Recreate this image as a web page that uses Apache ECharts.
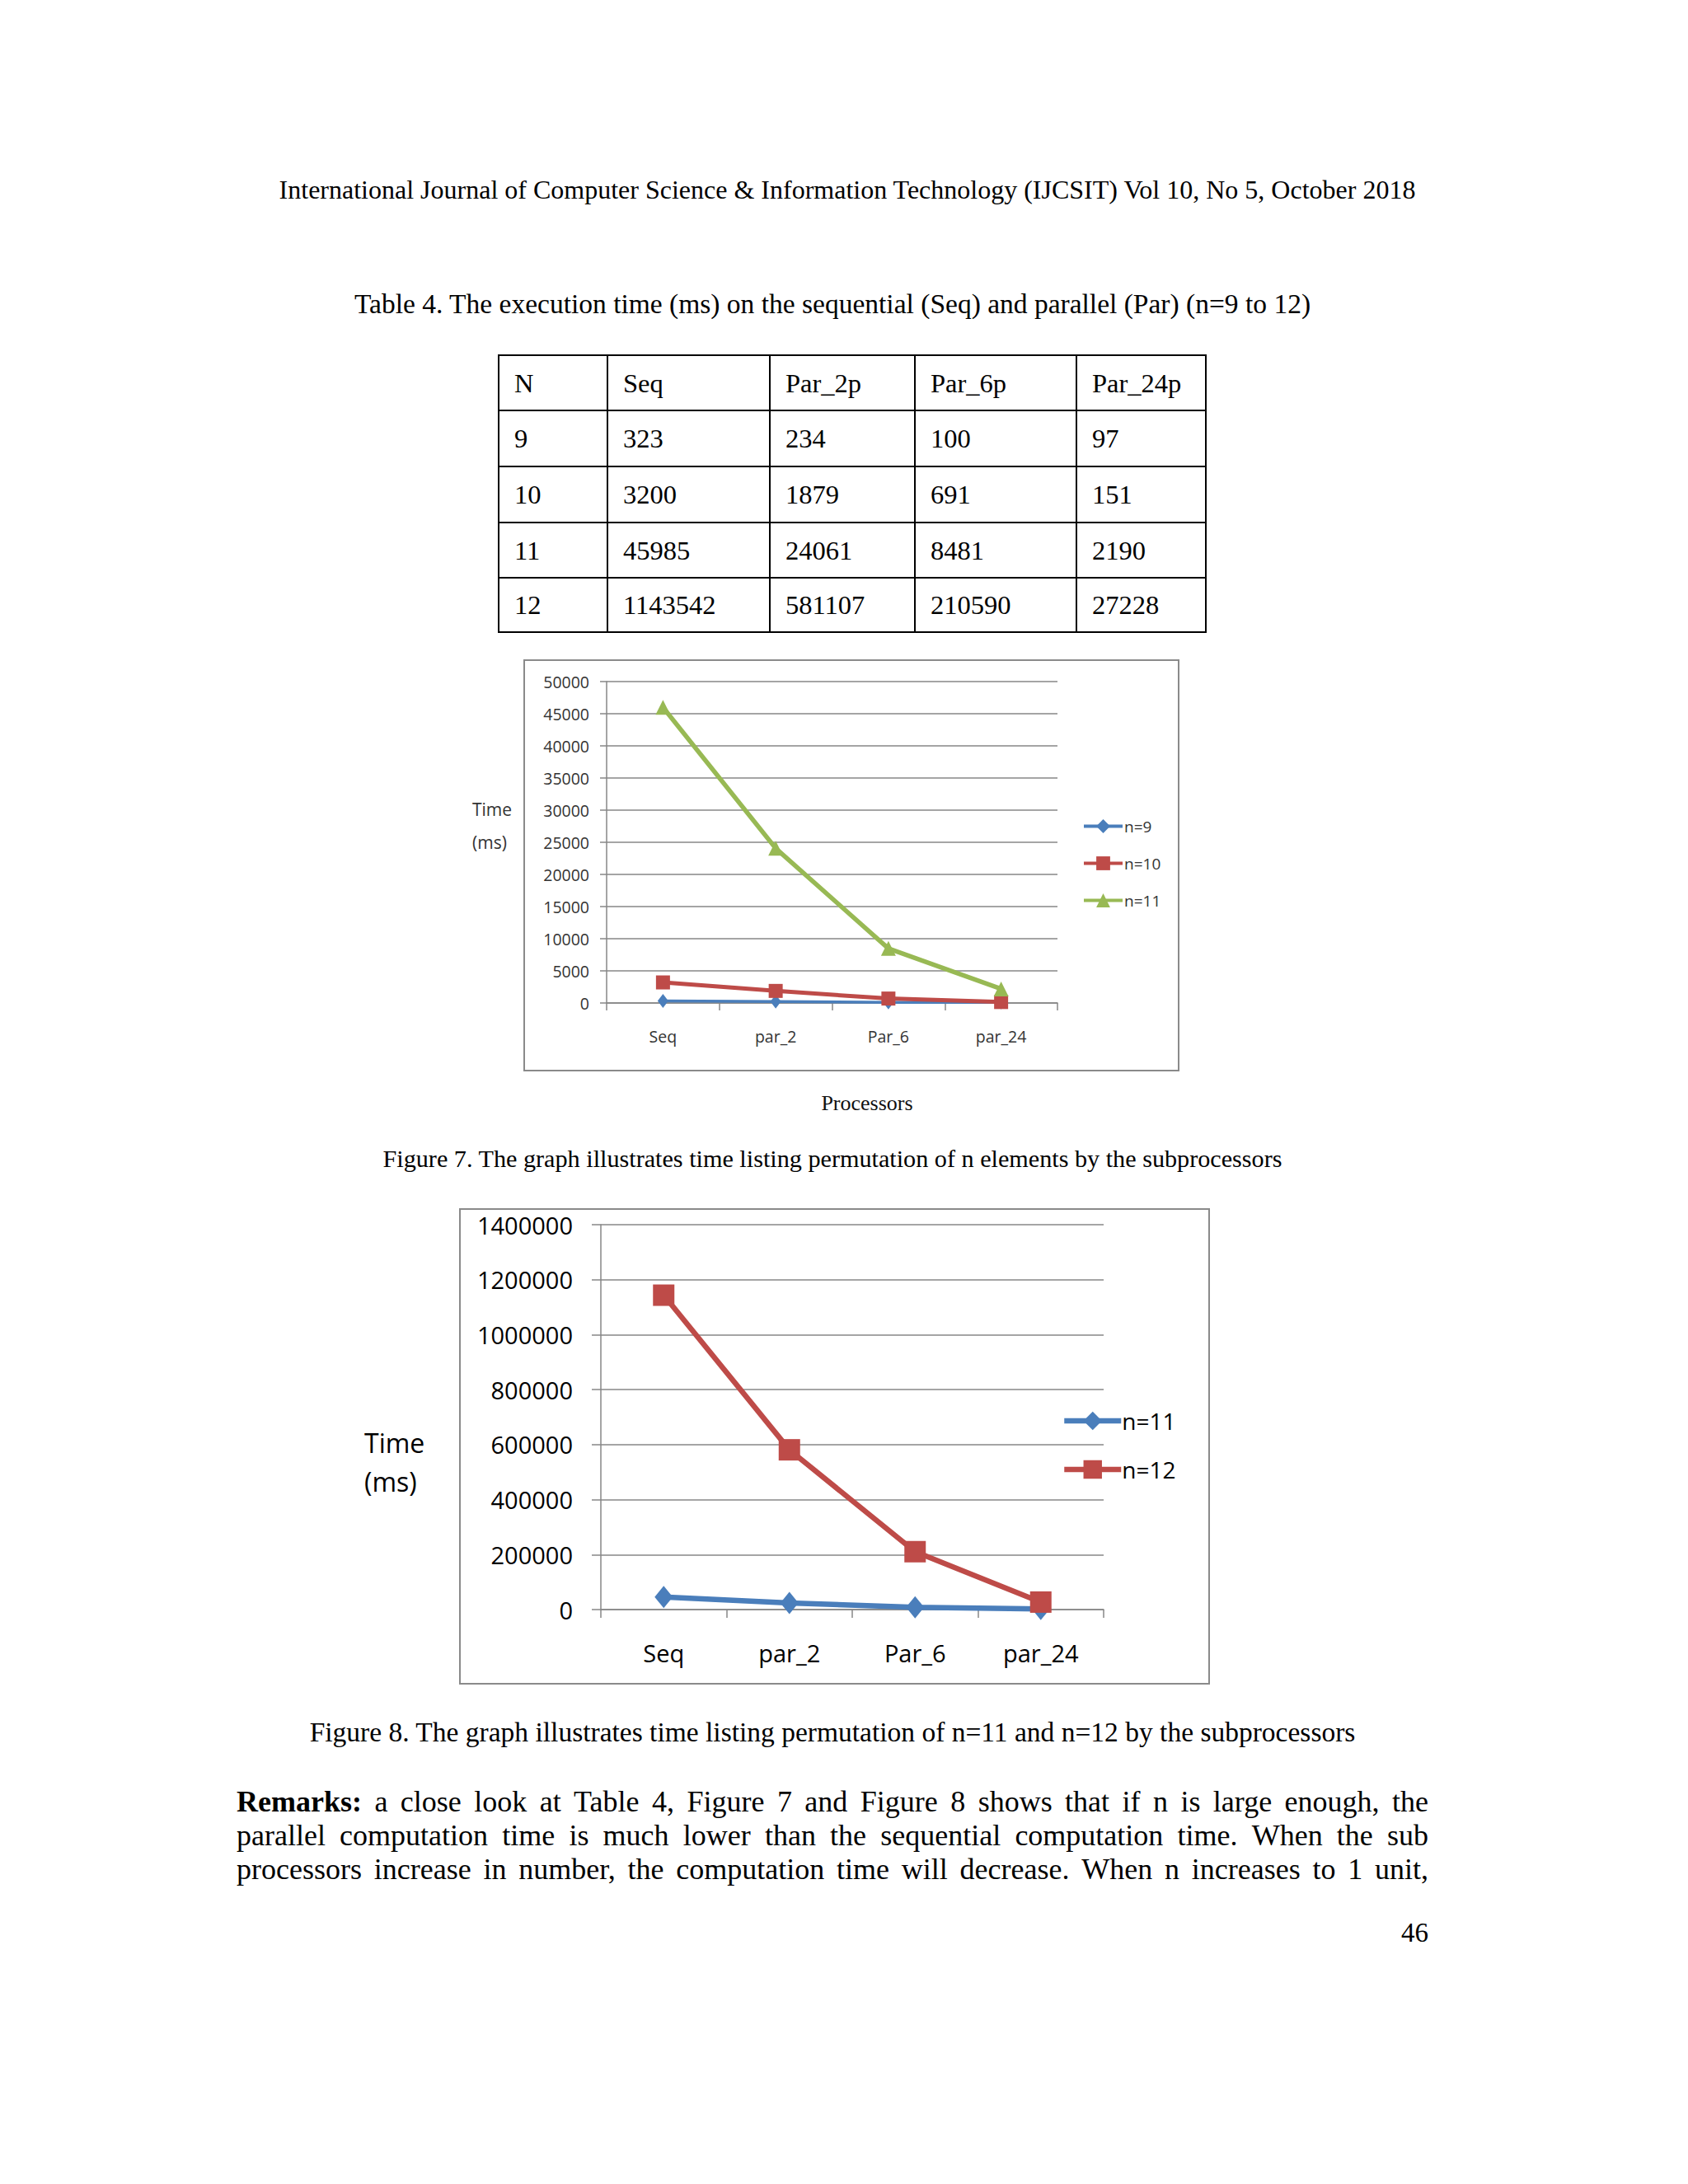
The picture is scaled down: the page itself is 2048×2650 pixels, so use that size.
<!DOCTYPE html>
<html><head><meta charset="utf-8">
<script src="https://cdn.jsdelivr.net/npm/echarts@6/dist/echarts.min.js"></script>
<style>html,body{margin:0;padding:0;background:#fff}#page{width:2048px;height:2650px}</style>
</head><body><div id="page"></div>
<script>
// ---------- data ----------
const categories = ['Seq', 'par_2', 'Par_6', 'par_24'];
const tableHeader = ['N', 'Seq', 'Par_2p', 'Par_6p', 'Par_24p'];
const nValues = [9, 10, 11, 12];
const seqTime = [323, 3200, 45985, 1143542];
const par2Time = [234, 1879, 24061, 581107];
const par6Time = [100, 691, 8481, 210590];
const par24Time = [97, 151, 2190, 27228];
const fig7Axis = { min: 0, max: 50000, interval: 5000 };
const fig8Axis = { min: 0, max: 1400000, interval: 200000 };
const fig7Names = ['n=9', 'n=10', 'n=11'];
const fig8Names = ['n=11', 'n=12'];

const headerText = 'International Journal of Computer Science & Information Technology (IJCSIT) Vol 10, No 5, October 2018';
const tableCaption = 'Table 4. The execution time (ms) on the sequential (Seq) and parallel (Par) (n=9 to 12)';
const fig7Caption = 'Figure 7. The graph illustrates time listing permutation of n elements by the subprocessors';
const fig8Caption = 'Figure 8. The graph illustrates time listing permutation of n=11 and n=12 by the subprocessors';
const remarkLines = [
  'Remarks: a close look at Table 4, Figure 7 and Figure 8 shows that if n is large enough, the',
  'parallel computation time is much lower than the sequential computation time. When the sub',
  'processors increase in number, the computation time will decrease. When n increases to 1 unit,'
];
const pageNumber = '46';

function rowOf(i) { return [seqTime[i], par2Time[i], par6Time[i], par24Time[i]]; }

// ---------- layout helpers ----------
const SERIF = '"Liberation Serif", "Times New Roman", serif';
const SANS = '"Open Sans", "Noto Sans", sans-serif';
const BLUE = '#4a7ebb', RED = '#be4b48', GREEN = '#98b954';
const GRID_C = '#878787';

const graphics = [];
function txt(x, y, text, size, opts) {
  opts = opts || {};
  graphics.push({
    type: 'text', x: x, y: y, silent: true,
    style: {
      text: text, fontSize: size, fontFamily: opts.family || SERIF,
      fontWeight: opts.weight || 'normal', fill: opts.color || '#000',
      align: opts.align || 'left', verticalAlign: 'middle',
      textAlign: opts.align || 'left', textVerticalAlign: 'middle'
    }
  });
}
function line(x1, y1, x2, y2, color, w) {
  graphics.push({ type: 'line', silent: true, shape: { x1: x1, y1: y1, x2: x2, y2: y2 },
    style: { stroke: color, lineWidth: w } });
}
function box(x, y, w, h) {
  graphics.push({ type: 'rect', silent: true, z: -1, shape: { x: x, y: y, width: w, height: h },
    style: { fill: 'none', stroke: '#8a8a8a', lineWidth: 2 } });
}

// header & caption
txt(1028, 230, headerText, 32, { align: 'center' });
txt(1010, 368, tableCaption, 33.5, { align: 'center' });

// table
const colX = [605, 737, 934, 1110, 1306, 1463];
const rowY = [431, 498, 566, 634, 701, 767];
colX.forEach(function (x) { line(x, rowY[0] - 1, x, rowY[rowY.length - 1] + 1, '#000', 2); });
rowY.forEach(function (y) { line(colX[0] - 1, y, colX[colX.length - 1] + 1, y, '#000', 2); });
const tableRows = [tableHeader].concat(nValues.map(function (n, i) { return [n].concat(rowOf(i)); }));
tableRows.forEach(function (r, ri) {
  const cy = (rowY[ri] + rowY[ri + 1]) / 2;
  r.forEach(function (v, ci) { txt(colX[ci] + 19, cy, String(v), 32.5); });
});

// chart boxes and labels
box(636, 801, 794, 498);
txt(573, 982, 'Time', 21, { family: SANS, color: '#333' });
txt(573, 1022, '(ms)', 21, { family: SANS, color: '#333' });
txt(1052, 1338, 'Processors', 26, { align: 'center', color: '#111' });
txt(1010, 1406, fig7Caption, 30.2, { align: 'center' });

box(558, 1467, 909, 576);
txt(442, 1750, 'Time', 32, { family: SANS });
txt(442, 1797, '(ms)', 32, { family: SANS });
txt(1010, 2101, fig8Caption, 33.5, { align: 'center' });

// justified paragraph
const ctx = document.createElement('canvas').getContext('2d');
function mw(t, size, weight) { ctx.font = (weight || 'normal') + ' ' + size + 'px "Liberation Serif"'; return ctx.measureText(t).width; }
const PL = 287, PR = 1733, PS = 36, lineYs = [2186, 2227, 2268];
remarkLines.forEach(function (l, li) {
  const words = l.split(' ').map(function (w, wi) {
    const bold = (li === 0 && wi === 0);
    return { t: w, bold: bold, w: mw(w, PS, bold ? 'bold' : 'normal') };
  });
  const total = words.reduce(function (s, w) { return s + w.w; }, 0);
  const gap = (PR - PL - total) / (words.length - 1);
  let x = PL;
  words.forEach(function (w) {
    txt(x, lineYs[li], w.t, PS, { weight: w.bold ? 'bold' : 'normal' });
    x += w.w + gap;
  });
});
txt(1733, 2345, pageNumber, 33, { align: 'right' });

// ---------- chart ----------
function plain(v) { return String(v); }
function xAx(grid, size, margin, tickLen) {
  return {
    type: 'category', gridIndex: grid, data: categories, boundaryGap: true,
    axisLine: { show: true, lineStyle: { color: GRID_C, width: 1.5 } },
    axisTick: { show: true, length: tickLen, lineStyle: { color: GRID_C, width: 1.5 } },
    axisLabel: { margin: margin, fontSize: size, fontFamily: SANS, color: grid ? '#000' : '#333' },
    splitLine: { show: false }
  };
}
function yAx(grid, ax, size, margin, tickLen) {
  return {
    type: 'value', gridIndex: grid, min: ax.min, max: ax.max, interval: ax.interval,
    axisLine: { show: true, lineStyle: { color: GRID_C, width: 1.5 } },
    axisTick: { show: true, length: tickLen, lineStyle: { color: GRID_C, width: 1.5 } },
    axisLabel: { margin: margin, fontSize: size, fontFamily: SANS, color: grid ? '#000' : '#333', formatter: plain },
    splitLine: { show: true, lineStyle: { color: GRID_C, width: 1.5 } }
  };
}
function ser(name, grid, data, color, symbol, size, width) {
  return {
    type: 'line', name: name, xAxisIndex: grid, yAxisIndex: grid, data: data,
    symbol: symbol, symbolSize: size, showAllSymbol: true,
    lineStyle: { color: color, width: width }, itemStyle: { color: color },
    emphasis: { disabled: true }, animation: false, z: 3
  };
}

const series = [
  ser(fig7Names[0], 0, rowOf(0), BLUE, 'diamond', [13, 17], 3.5),
  ser(fig7Names[1], 0, rowOf(1), RED, 'rect', 17, 5),
  ser(fig7Names[2], 0, rowOf(2), GREEN, 'triangle', 18, 5.5),
  ser(fig8Names[0] + ' ', 1, rowOf(2), BLUE, 'diamond', [22, 27], 6.5),
  ser(fig8Names[1] + ' ', 1, rowOf(3), RED, 'rect', 26, 6.5)
];

const chart = echarts.init(document.getElementById('page'), null, { renderer: 'svg', width: 2048, height: 2650 });
chart.setOption({
  backgroundColor: '#fff',
  animation: false,
  grid: [
    { left: 736, top: 827, width: 547, height: 390, containLabel: false },
    { left: 729, top: 1486, width: 610, height: 467, containLabel: false }
  ],
  xAxis: [xAx(0, 19.5, 30, 9), xAx(1, 29, 38, 10)],
  yAxis: [yAx(0, fig7Axis, 19.5, 21, 8), yAx(1, fig8Axis, 29, 34, 11)],
  legend: [
    { data: fig7Names, orient: 'vertical', left: 1308, top: 988, itemWidth: 47, itemHeight: 21, itemGap: 26,
      lineStyle: { width: 4 },
      textStyle: { fontSize: 19, fontFamily: SANS, color: '#333', padding: [0, 0, 0, -3] }, selectedMode: false },
    { data: fig8Names.map(function (n) { return n + ' '; }), orient: 'vertical', left: 1283, top: 1705,
      itemWidth: 69, itemHeight: 28, itemGap: 31, formatter: function (n) { return n.trim(); },
      lineStyle: { width: 6.5 },
      textStyle: { fontSize: 28, fontFamily: SANS, color: '#000', padding: [0, 0, 0, -4] }, selectedMode: false }
  ],
  series: series,
  graphic: graphics
});
</script></body></html>
